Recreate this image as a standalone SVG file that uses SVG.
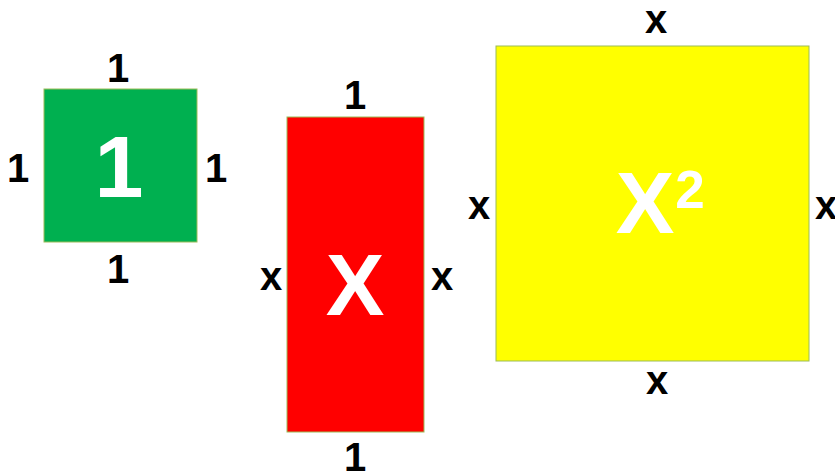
<svg xmlns="http://www.w3.org/2000/svg" width="835" height="472" viewBox="0 0 835 472">
<style>
.box{stroke:#9bbb59;stroke-width:1}
.lbl{font-family:"Liberation Sans",Arial,sans-serif;font-weight:bold;font-size:40px;fill:#000;text-anchor:middle}
.big{font-family:"Liberation Sans",Arial,sans-serif;font-weight:bold;font-size:88px;fill:#fff;text-anchor:middle}
</style>
<rect width="835" height="472" fill="#fff"/>
<g id="unit">
<rect class="box" x="44" y="89" width="153" height="153" fill="#00b050"/>
<text class="big" x="119" y="197">1</text>
<text class="lbl" x="118" y="82">1</text>
<text class="lbl" x="18" y="182">1</text>
<text class="lbl" x="216" y="182">1</text>
<text class="lbl" x="118" y="283">1</text>
</g>
<g id="rod">
<rect class="box" x="287" y="117" width="137" height="315" fill="#ff0000"/>
<text class="big" x="355" y="315">X</text>
<text class="lbl" x="355" y="109">1</text>
<text class="lbl" x="271" y="290">x</text>
<text class="lbl" x="442" y="290">x</text>
<text class="lbl" x="355" y="471">1</text>
</g>
<g id="square">
<rect class="box" x="496" y="46" width="313" height="315" fill="#ffff00"/>
<text class="big" x="645" y="233">X</text>
<text class="big" x="690" y="208" style="font-size:53px">2</text>
<text class="lbl" x="656" y="33">x</text>
<text class="lbl" x="479" y="219">x</text>
<text class="lbl" x="826" y="219">x</text>
<text class="lbl" x="657" y="394">x</text>
</g>
<g id="connectors"/>
</svg>
